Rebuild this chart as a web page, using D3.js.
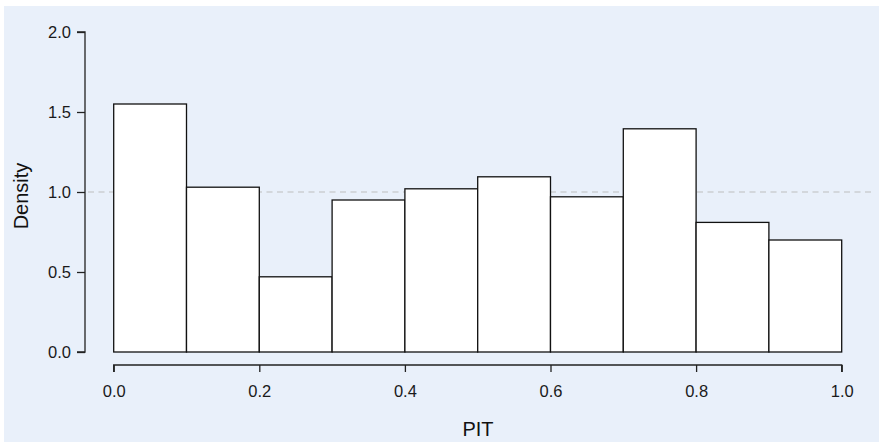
<!DOCTYPE html>
<html><head><meta charset="utf-8">
<script src="https://cdn.jsdelivr.net/npm/d3@7"></script>
<style>html,body{margin:0;padding:0;background:#fff;}</style>
</head><body>
<script>
const binEdges = [0.0,0.1,0.2,0.3,0.4,0.5,0.6,0.7,0.8,0.9,1.0];
const densities = [1.55,1.03,0.47,0.95,1.02,1.095,0.97,1.395,0.81,0.70];
const xTicks = [0.0,0.2,0.4,0.6,0.8,1.0];
const yTicks = [0.0,0.5,1.0,1.5,2.0];
const refLine = 1.0;

const W = 879, H = 443;
const svg = d3.select("body").append("svg").attr("width",W).attr("height",H);
svg.append("rect").attr("x",4).attr("y",6).attr("width",875).attr("height",436).attr("fill","#e9f0fa");

const x = d3.scaleLinear().domain([0,1]).range([113.7,841.7]);
const y = d3.scaleLinear().domain([0,2]).range([352,32]);
const font = "'Liberation Sans', Arial, Helvetica, sans-serif";

// reference line
svg.append("line").attr("x1",88).attr("x2",871).attr("y1",y(refLine)).attr("y2",y(refLine))
  .attr("stroke","#bdbdbd").attr("stroke-width",1.2).attr("stroke-dasharray","6,4.5");

// bars
const bins = densities.map((d,i)=>({x0:binEdges[i],x1:binEdges[i+1],d}));
svg.append("g").selectAll("rect").data(bins).join("rect")
  .attr("x",b=>x(b.x0)).attr("width",b=>x(b.x1)-x(b.x0))
  .attr("y",b=>y(b.d)).attr("height",b=>y(0)-y(b.d))
  .attr("fill","#fff").attr("stroke","#111").attr("stroke-width",1.3);

// axes
const yAxis = d3.axisLeft(y).tickValues(yTicks).tickFormat(d3.format(".1f")).tickSize(8).tickPadding(6);
const gy = svg.append("g").attr("transform","translate(85,0)").call(yAxis);
const xAxis = d3.axisBottom(x).tickValues(xTicks).tickFormat(d3.format(".1f")).tickSize(7).tickPadding(13);
const gx = svg.append("g").attr("transform","translate(0,365)").call(xAxis);
[gx,gy].forEach(g=>{
  g.attr("font-size",16.5).attr("font-family",font);
  g.select(".domain").attr("stroke","#222").attr("stroke-width",1.3);
  g.selectAll(".tick line").attr("stroke","#222").attr("stroke-width",1.3);
  g.selectAll(".tick text").attr("fill","#1a1a1a");
});
gx.select(".domain").attr("d",`M${x(0)},7V0H${x(1)}V7`);
gy.select(".domain").attr("d",`M-8,${y(2)}H0V${y(0)}H-8`);

svg.append("text").attr("x",478).attr("y",436).attr("text-anchor","middle")
  .attr("font-family",font).attr("font-size",20).attr("fill","#111").text("PIT");
svg.append("text").attr("transform","translate(28,196) rotate(-90)").attr("text-anchor","middle")
  .attr("font-family",font).attr("font-size",20).attr("fill","#111").text("Density");
</script>
</body></html>
